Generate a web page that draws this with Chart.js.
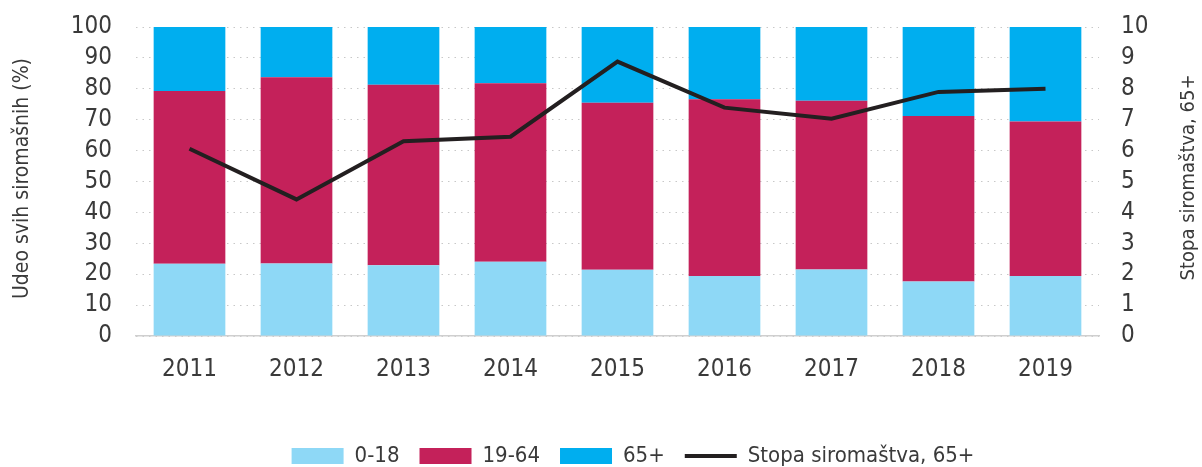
<!DOCTYPE html>
<html>
<head>
<meta charset="utf-8">
<script src="https://cdn.jsdelivr.net/npm/chart.js@4/dist/chart.umd.min.js"></script>
<style>
  html, body { margin: 0; padding: 0; background: #fff; }
  #wrap { width: 1202px; height: 467px; }
</style>
</head>
<body>
<div id="wrap"><canvas id="chart"></canvas></div>
<script>
// data
const years = ['2011', '2012', '2013', '2014', '2015', '2016', '2017', '2018', '2019'];
const age0to18 = [23.4, 23.5, 22.9, 24.0, 21.4, 19.4, 21.5, 17.6, 19.4];
const age19to64 = [55.9, 60.2, 58.4, 57.8, 54.1, 57.2, 54.6, 53.6, 50.0];
const age65plus = [20.7, 16.3, 18.7, 18.2, 24.5, 23.4, 23.9, 28.8, 30.6];
const povertyRate65 = [6.06, 4.42, 6.3, 6.45, 8.88, 7.39, 7.03, 7.9, 8.0];

const leftTitle = 'Udeo svih siromašnih (%)';
const rightTitle = 'Stopa siromaštva, 65+';

const FONT = "'DejaVu Sans', sans-serif";
const TEXT = '#3a3a3a';
// chart.js passes weight straight into the font string, so use it for the stretch
const tickFont = { family: FONT, size: 24, weight: 'condensed' };

// both axis titles read bottom-to-top, so draw them by hand
const axisTitles = {
    id: 'axisTitles',
    afterLayout(chart) {
        // nudge the legend to where the reference has it
        const lg = chart.legend;
        lg.left += 32; lg.right += 32;
        lg.top += 10; lg.bottom += 10;
    },
    afterDraw(chart) {
        const ctx = chart.ctx;
        const area = chart.chartArea;
        const midY = (area.top + area.bottom) / 2 - 3;
        ctx.save();
        ctx.fillStyle = TEXT;
        ctx.font = 'condensed 21px ' + FONT;
        ctx.textAlign = 'center';
        ctx.textBaseline = 'middle';
        ctx.translate(23, midY);
        ctx.rotate(-Math.PI / 2);
        ctx.fillText(leftTitle, 0, 0);
        ctx.restore();
        ctx.save();
        ctx.fillStyle = TEXT;
        ctx.font = 'condensed 20px ' + FONT;
        ctx.textAlign = 'center';
        ctx.textBaseline = 'middle';
        ctx.translate(1189, midY - 1);
        ctx.rotate(-Math.PI / 2);
        ctx.fillText(rightTitle, 0, 0);
        ctx.restore();
    }
};

new Chart(document.getElementById('chart'), {
    data: {
        labels: years,
        datasets: [
            {
                type: 'line',
                label: 'Stopa siromaštva, 65+',
                data: povertyRate65,
                yAxisID: 'y1',
                borderColor: '#231f20',
                backgroundColor: '#231f20',
                borderWidth: 4,
                pointRadius: 0,
                tension: 0,
                pointStyle: 'line',
                order: 0
            },
            {
                type: 'bar',
                label: '0-18',
                data: age0to18,
                backgroundColor: '#8ed8f6',
                pointStyle: 'rect',
                order: 1
            },
            {
                type: 'bar',
                label: '19-64',
                data: age19to64,
                backgroundColor: '#c4215a',
                pointStyle: 'rect',
                order: 1
            },
            {
                type: 'bar',
                label: '65+',
                data: age65plus,
                backgroundColor: '#00aeef',
                pointStyle: 'rect',
                order: 1
            }
        ]
    },
    options: {
        responsive: true,
        maintainAspectRatio: false,
        animation: false,
        barPercentage: 0.67,
        categoryPercentage: 1,
        layout: { padding: { top: 27, left: 0, right: 0, bottom: 0 } },
        plugins: {
            tooltip: { enabled: false },
            legend: {
                position: 'bottom',
                labels: {
                    usePointStyle: true,
                    pointStyleWidth: 52,
                    boxHeight: 16,
                    padding: 20,
                    color: TEXT,
                    font: { family: FONT, size: 22, weight: 'condensed' },
                    sort: (a, b) => (a.datasetIndex === 0) - (b.datasetIndex === 0)
                }
            }
        },
        scales: {
            x: {
                stacked: true,
                grid: { display: false },
                border: { display: true, color: '#cfcfcf', width: 1.5 },
                ticks: { color: TEXT, font: tickFont, padding: 11 },
                afterFit: s => { s.height = 79; }
            },
            y: {
                stacked: true,
                position: 'left',
                min: 0,
                max: 100,
                ticks: { stepSize: 10, autoSkip: false, color: TEXT, font: tickFont, padding: 0 },
                grid: { color: '#c8c8c8', lineWidth: 1, tickLength: 24, tickColor: 'rgba(0,0,0,0)' },
                border: { display: false, dash: [1.5, 5] },
                afterFit: s => { s.width = 136; }
            },
            y1: {
                position: 'right',
                min: 0,
                max: 10,
                ticks: { stepSize: 1, autoSkip: false, color: TEXT, font: tickFont, padding: 0 },
                grid: { drawOnChartArea: false, tickLength: 22, tickColor: 'rgba(0,0,0,0)' },
                border: { display: false },
                afterFit: s => { s.width = 103; }
            }
        }
    },
    plugins: [axisTitles]
});
</script>
</body>
</html>
